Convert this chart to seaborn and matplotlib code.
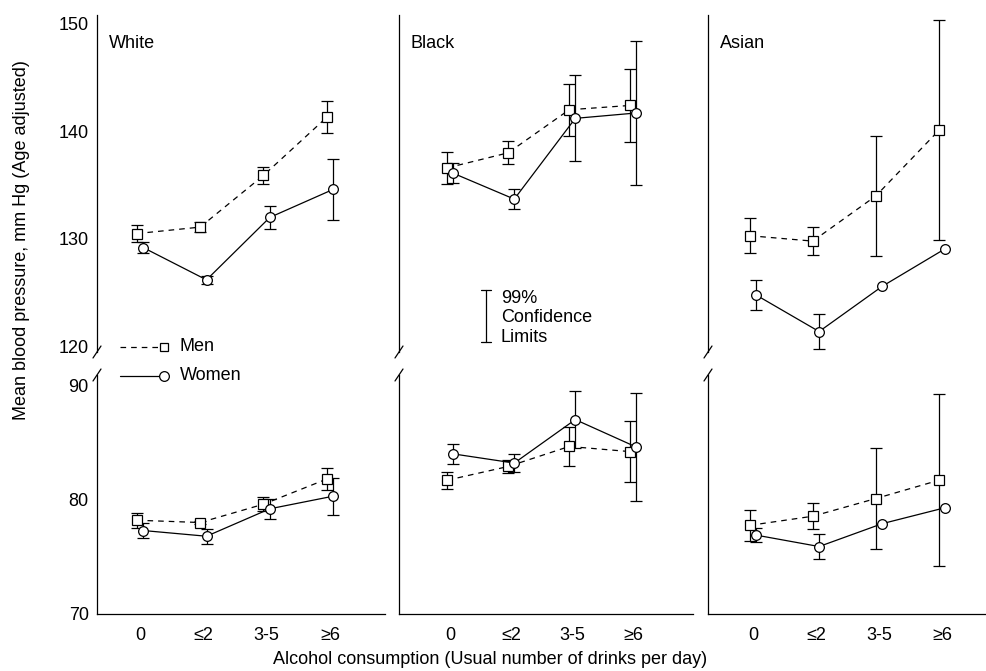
import matplotlib
matplotlib.use("Agg")
import matplotlib.pyplot as plt
from matplotlib.lines import Line2D
import numpy as np
import pandas as pd
import seaborn as sns

groups = ["White", "Black", "Asian"]
drinks = ["0", "≤2", "3-5", "≥6"]

# systolic (upper half), mean and half-width of the bar
white_sys_men = [130.5, 131.1, 135.9, 141.3]
white_sys_men_err = [0.75, 0.5, 0.8, 1.5]
white_sys_women = [129.2, 126.2, 132.0, 134.6]
white_sys_women_err = [0.5, 0.35, 1.1, 2.8]
black_sys_men = [136.6, 138.0, 142.0, 142.4]
black_sys_men_err = [1.47, 1.07, 2.4, 3.4]
black_sys_women = [136.1, 133.7, 141.2, 141.7]
black_sys_women_err = [0.93, 0.9, 4.0, 6.7]
asian_sys_men = [130.3, 129.8, 134.0, 140.1]
asian_sys_men_err = [1.6, 1.3, 5.6, 10.2]
asian_sys_women = [124.8, 121.4, 125.6, 129.1]
asian_sys_women_err = [1.4, 1.6, 0, 0]

# diastolic (lower half)
white_dia_men = [78.2, 78.0, 79.6, 81.8]
white_dia_men_err = [0.65, 0.15, 0.6, 1.0]
white_dia_women = [77.3, 76.8, 79.2, 80.3]
white_dia_women_err = [0.67, 0.65, 0.85, 1.6]
black_dia_men = [81.7, 82.9, 84.65, 84.2]
black_dia_men_err = [0.76, 0.6, 1.7, 2.7]
black_dia_women = [84.0, 83.2, 87.0, 84.6]
black_dia_women_err = [0.86, 0.8, 2.5, 4.7]
asian_dia_men = [77.75, 78.55, 80.1, 81.7]
asian_dia_men_err = [1.35, 1.13, 4.4, 7.5]
asian_dia_women = [76.9, 75.9, 77.9, 79.3]
asian_dia_women_err = [0.6, 1.13, 0, 0]

series = {
    ("White", "sys", "Men"): (white_sys_men, white_sys_men_err),
    ("White", "sys", "Women"): (white_sys_women, white_sys_women_err),
    ("Black", "sys", "Men"): (black_sys_men, black_sys_men_err),
    ("Black", "sys", "Women"): (black_sys_women, black_sys_women_err),
    ("Asian", "sys", "Men"): (asian_sys_men, asian_sys_men_err),
    ("Asian", "sys", "Women"): (asian_sys_women, asian_sys_women_err),
    ("White", "dia", "Men"): (white_dia_men, white_dia_men_err),
    ("White", "dia", "Women"): (white_dia_women, white_dia_women_err),
    ("Black", "dia", "Men"): (black_dia_men, black_dia_men_err),
    ("Black", "dia", "Women"): (black_dia_women, black_dia_women_err),
    ("Asian", "dia", "Men"): (asian_dia_men, asian_dia_men_err),
    ("Asian", "dia", "Women"): (asian_dia_women, asian_dia_women_err),
}

rows = []
for (grp, kind, sex), (vals, errs) in series.items():
    for i, (v, e) in enumerate(zip(vals, errs)):
        rows.append({"group": grp, "kind": kind, "sex": sex, "cat": i, "bp": v, "err": e})
df = pd.DataFrame(rows)
dodge = {"Men": -0.05, "Women": 0.05}
df["x"] = df["cat"] + df["sex"].map(dodge)

sns.set_theme(style="white")
plt.rcParams["font.family"] = ["Liberation Sans", "DejaVu Sans"]
plt.rcParams["font.size"] = 13
plt.rcParams["text.color"] = "black"
plt.rcParams["xtick.color"] = "black"
plt.rcParams["ytick.color"] = "black"

W, H = 987, 671
fig = plt.figure(figsize=(W / 100, H / 100), dpi=100)


def box(x0, x1, y0, y1):
    return [x0 / W, 1 - y1 / H, (x1 - x0) / W, (y1 - y0) / H]


def fx(px):
    return px / W


def fy(py):
    return 1 - py / H


panel_px = [(97, 385), (399, 693), (708, 987)]
panel_xlim = [(-0.68, 3.87), (-0.84, 3.98), (-0.71, 3.71)]
halves = {"sys": ((15, 352), (119.5, 150.8), [120, 130, 140, 150]),
          "dia": ((375, 614), (70, 90.9), [70, 80, 90])}

for gi, grp in enumerate(groups):
    x0, x1 = panel_px[gi]
    for kind, ((y0, y1), ylim, yt) in halves.items():
        ax = fig.add_axes(box(x0, x1, y0, y1))
        sub = df[(df.group == grp) & (df.kind == kind)]
        bars = sub[sub.err > 0]
        ax.errorbar(bars["x"], bars["bp"], yerr=bars["err"], fmt="none",
                    ecolor="black", elinewidth=0.9, capsize=4.5, capthick=0.9, zorder=2)
        sns.lineplot(data=sub, x="x", y="bp", style="sex", ax=ax, color="black",
                     markers={"Men": "s", "Women": "o"},
                     dashes={"Men": (4.5, 4), "Women": ""},
                     style_order=["Men", "Women"],
                     markersize=7, markerfacecolor="white", markeredgecolor="black",
                     markeredgewidth=0.9, linewidth=0.9, legend=False, zorder=3,
                     errorbar=None, sort=True)
        ax.set_xlim(panel_xlim[gi])
        ax.set_ylim(ylim)
        ax.set_xlabel("")
        ax.set_ylabel("")
        for s in ["top", "right"]:
            ax.spines[s].set_visible(False)
        ax.spines["left"].set_color("black")
        ax.spines["left"].set_linewidth(0.9)
        ax.spines["bottom"].set_color("black")
        ax.spines["bottom"].set_linewidth(0.9)
        ax.tick_params(length=0)
        ax.patch.set_alpha(0)
        if kind == "sys":
            ax.spines["bottom"].set_visible(False)
            ax.set_xticks([])
        else:
            ax.set_xticks(range(len(drinks)))
            ax.set_xticklabels(drinks, fontsize=13)
            ax.tick_params(axis="x", pad=9)
        ax.set_yticks(yt)
        if gi == 0:
            ax.set_yticklabels([str(t) for t in yt], fontsize=13)
            ax.tick_params(axis="y", pad=6)
        else:
            ax.set_yticklabels([])
    # break marks on the left spine
    for yb in (352, 375):
        fig.add_artist(Line2D([fx(x0 - 4), fx(x0 + 4)], [fy(yb + 6), fy(yb - 6)],
                              color="black", lw=0.9))
    fig.text(fx(x0 + 12), fy(44), grp, fontsize=13, ha="left", va="center")

# legend for sex
fig.add_artist(Line2D([fx(120), fx(164)], [fy(347), fy(347)], color="black", lw=0.9,
                      dashes=(4.5, 4)))
fig.add_artist(Line2D([fx(164)], [fy(347)], marker="s", markersize=6,
                      markerfacecolor="white", markeredgecolor="black", mew=0.9, lw=0))
fig.add_artist(Line2D([fx(120), fx(164)], [fy(376), fy(376)], color="black", lw=0.9))
fig.add_artist(Line2D([fx(164)], [fy(376)], marker="o", markersize=7,
                      markerfacecolor="white", markeredgecolor="black", mew=0.9, lw=0))
fig.text(fx(180), fy(347), "Men", fontsize=13, va="center")
fig.text(fx(180), fy(376), "Women", fontsize=13, va="center")

# 99% confidence limit key
fig.add_artist(Line2D([fx(486), fx(486)], [fy(290), fy(342)], color="black", lw=0.9))
for yk in (290, 342):
    fig.add_artist(Line2D([fx(481), fx(491)], [fy(yk), fy(yk)], color="black", lw=0.9))
fig.text(fx(501), fy(318), "99%\nConfidence\nLimits", fontsize=13, va="center",
         ha="left", linespacing=1.2)

fig.text(fx(22), fy(240), "Mean blood pressure, mm Hg (Age adjusted)", rotation=90,
         fontsize=13, ha="center", va="center")
fig.text(fx(490), fy(660), "Alcohol consumption (Usual number of drinks per day)",
         fontsize=13, ha="center", va="center")

fig.savefig("out.png", dpi=100, facecolor="white")
